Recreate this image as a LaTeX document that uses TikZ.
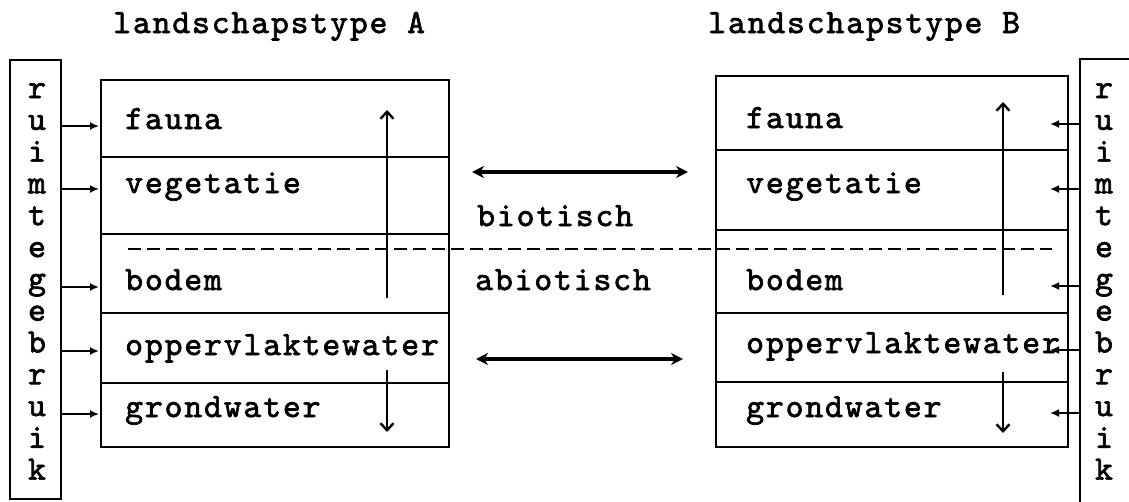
\documentclass[tikz,border=0pt]{standalone}
\usepackage{fontspec}
\newfontfamily\tw{lmmono10-regular}[Extension=.otf, FakeBold=2, LetterSpace=5.5]
\usetikzlibrary{arrows.meta}
\tikzset{
  box/.style={draw, line width=2.6pt, inner sep=0pt, outer sep=0pt, anchor=north west},
  rowA/.style={box, minimum width=348pt},
  rowB/.style={box, minimum width=352pt},
  lbl/.style={font=\tw\fontsize{34}{34}\selectfont, inner sep=0pt, anchor=base west},
  sl/.style={font=\tw\fontsize{34}{34}\selectfont, inner sep=0pt, anchor=base},
  sarrow/.style={line width=2.6pt, -{Latex[length=9pt,width=8pt]}},
  varrow/.style={line width=2.4pt, -{Straight Barb[length=7pt,width=13pt,line width=2.4pt]}},
  darrow/.style={line width=3.2pt, {Stealth[length=12pt,width=12pt]}-{Stealth[length=12pt,width=12pt]}},
  divline/.style={line width=2.4pt, dash pattern=on 13pt off 6pt}
}
\begin{document}
\begin{tikzpicture}[x=1pt,y=-1pt]
\clip (0,0) rectangle (1129,501);
\fill[white] (0,0) rectangle (1129,501);
% titles
\node[lbl] (tA) at (113,33) {landschapstype A};
\node[lbl] (tB) at (708,33) {landschapstype B};
% strips
\node[box, minimum width=51pt, minimum height=439pt] (stripA) at (10,60) {};
\node[box, minimum width=60pt, minimum height=460pt] (stripB) at (1080,59) {};
\foreach \c [count=\i] in {r,u,i,m,t,e,g,e,b,r,u,i,k} {
  \node[sl] (la\i) at (37,{98+31.8*(\i-1)}) {\c};
  \node[sl] (lb\i) at (1104,{98+31.8*(\i-1)}) {\c};
}
% left box rows
\node[rowA, minimum height=77pt] (fA) at (101,80) {};
\node[rowA, minimum height=77pt] (vA) at (101,157) {};
\node[rowA, minimum height=79pt] (bA) at (101,234) {};
\node[rowA, minimum height=70pt] (oA) at (101,313) {};
\node[rowA, minimum height=64pt] (gA) at (101,383) {};
% right box rows
\node[rowB, minimum height=74pt] (fB) at (716,76) {};
\node[rowB, minimum height=80pt] (vB) at (716,150) {};
\node[rowB, minimum height=83pt] (bB) at (716,230) {};
\node[rowB, minimum height=69pt] (oB) at (716,313) {};
\node[rowB, minimum height=65pt] (gB) at (716,382) {};
% labels
\node[lbl] (lfA) at (125,129) {fauna};
\node[lbl] (lvA) at (125,193) {vegetatie};
\node[lbl] (lbA) at (125,290) {bodem};
\node[lbl] (loA) at (125,355) {oppervlaktewater};
\node[lbl] (lgA) at (125,417) {grondwater};
\node[lbl] (lfB) at (746,128) {fauna};
\node[lbl] (lvB) at (746,193) {vegetatie};
\node[lbl] (lbB) at (746,290) {bodem};
\node[lbl] (loB) at (746,353) {oppervlaktewater};
\node[lbl] (lgB) at (746,417) {grondwater};
\node[lbl] (bio) at (477,226) {biotisch};
\node[lbl] (abio) at (475,290) {abiotisch};
% coordinates
\coordinate (yA1) at (0,126);
\coordinate (yA2) at (0,189);
\coordinate (yA3) at (0,287);
\coordinate (yA4) at (0,351);
\coordinate (yA5) at (0,414);
\coordinate (eB1) at (1050,124);
\coordinate (eB2) at (1050,189);
\coordinate (eB3) at (1050,286);
\coordinate (eB4) at (1050,350);
\coordinate (eB5) at (1050,413);
% left strip arrows
\foreach \r/\i in {fA/1,vA/2,bA/3,oA/4,gA/5}
  \draw[sarrow, shorten <=1pt, shorten >=2pt] (stripA.east |- yA\i) -- (\r.west |- yA\i);
% right strip arrows
\foreach \i in {1,...,5}
  \draw[sarrow, shorten <=1pt] (stripB.west |- eB\i) -- (eB\i);
% vertical arrows
\coordinate (uA0) at (387,298); \coordinate (uA1) at (387,110);
\coordinate (dA0) at (387,370); \coordinate (dA1) at (387,432);
\coordinate (uB0) at (1003,295); \coordinate (uB1) at (1003,102);
\coordinate (dB0) at (1003,372); \coordinate (dB1) at (1003,433);
\draw[varrow] (uA0) -- (uA1);
\draw[varrow] (dA0) -- (dA1);
\draw[varrow] (uB0) -- (uB1);
\draw[varrow] (dB0) -- (dB1);
% dashed divider
\coordinate (dl0) at (128,249); \coordinate (dl1) at (1052,249);
\draw[divline] (dl0) -- (dl1);
% middle arrows
\coordinate (m1a) at (472,172); \coordinate (m1b) at (688,172);
\coordinate (m2a) at (476,359); \coordinate (m2b) at (683,359);
\draw[darrow] (m1a) -- (m1b);
\draw[darrow] (m2a) -- (m2b);
\end{tikzpicture}
\end{document}
